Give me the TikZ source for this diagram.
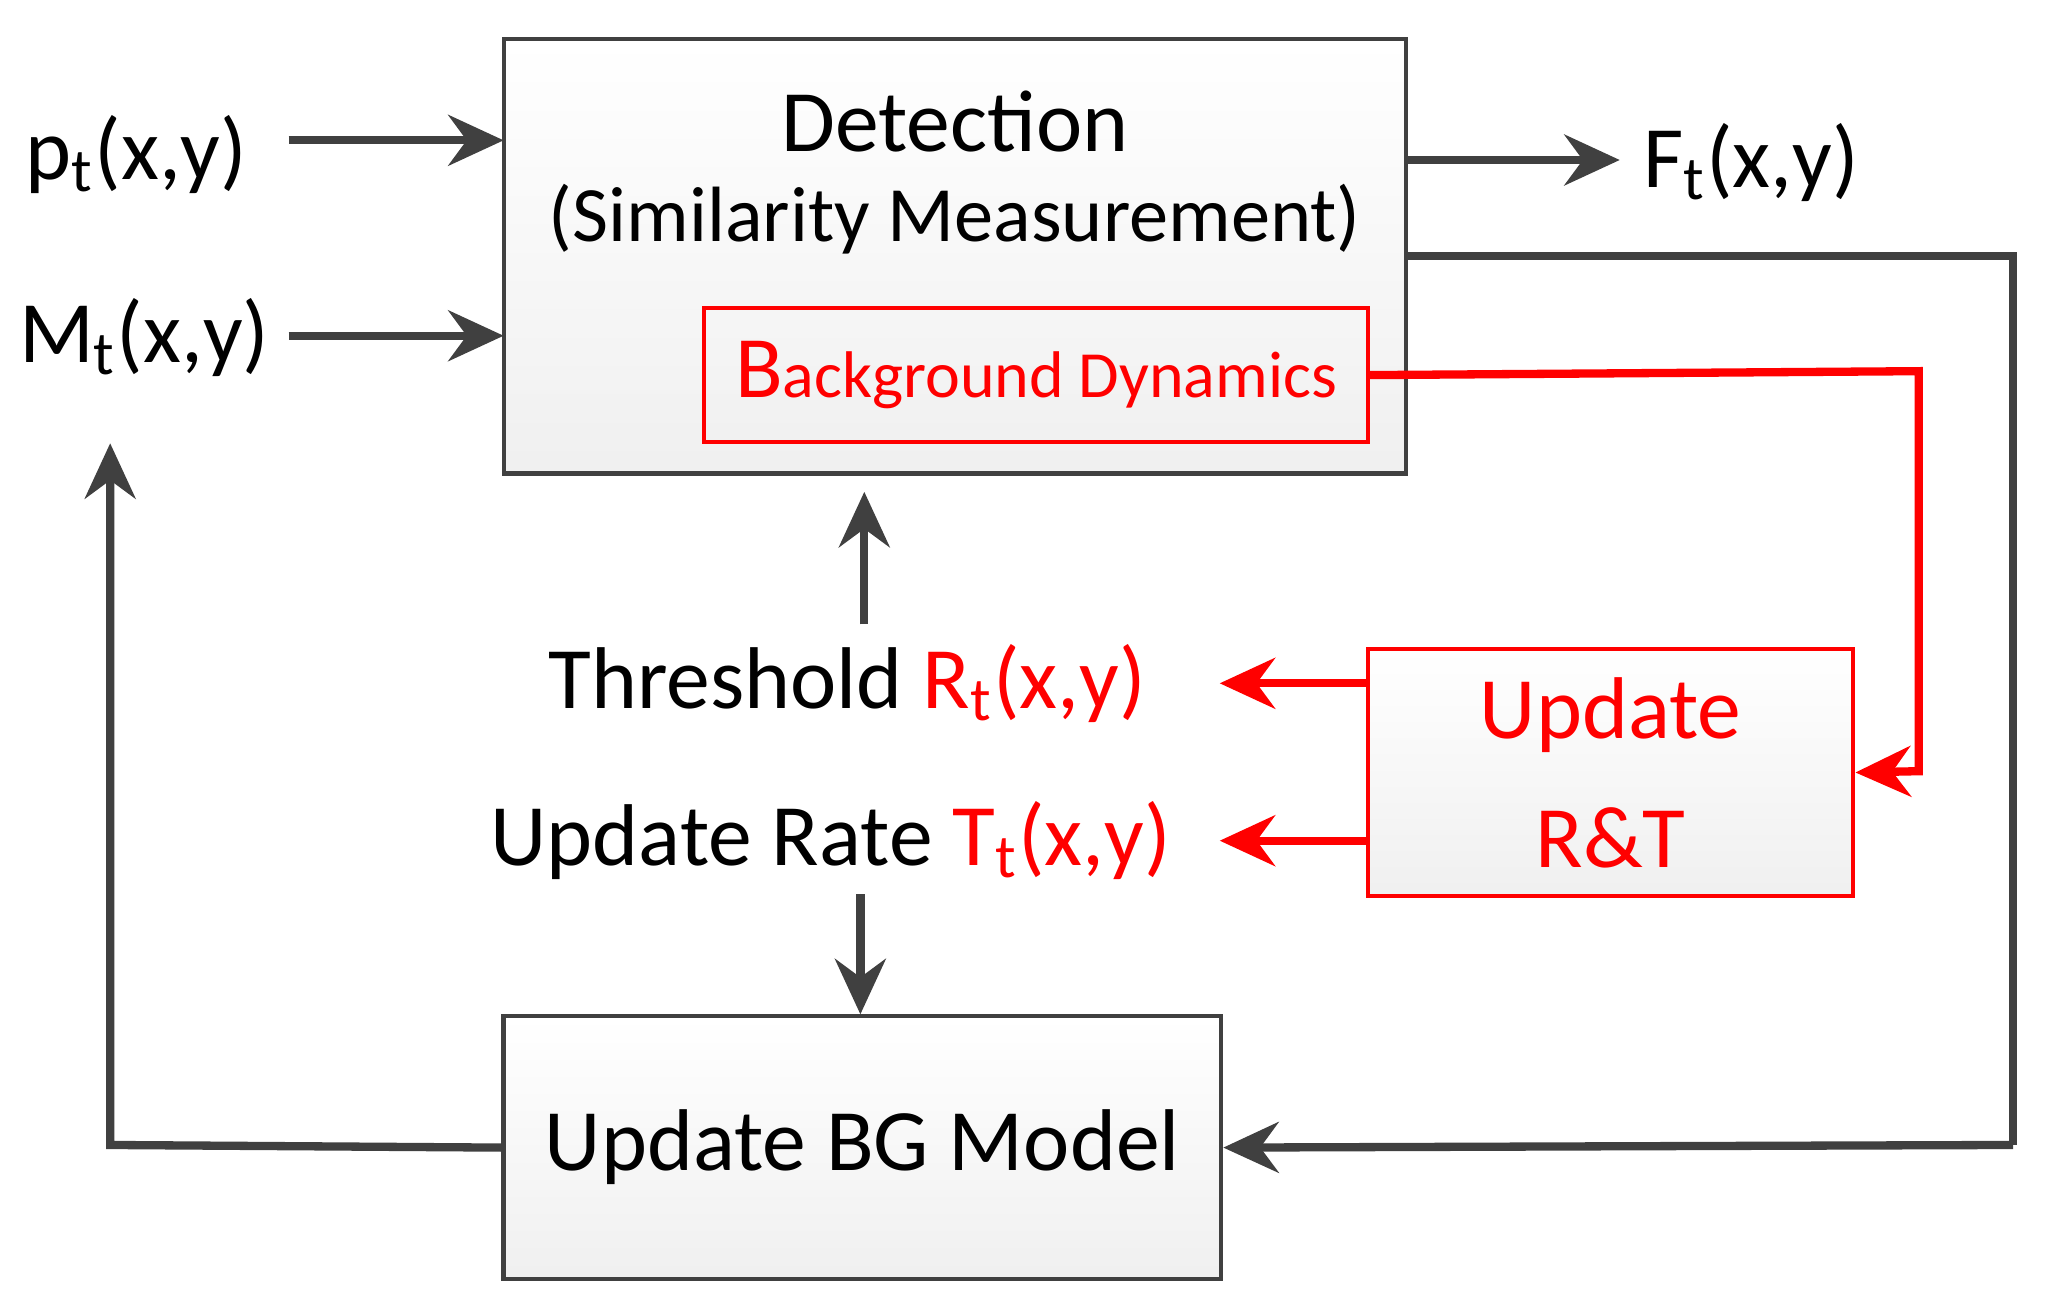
\documentclass[tikz,border=0pt]{standalone}
\usepackage{fontspec}
\setmainfont{Carlito}
\usetikzlibrary{arrows.meta}
\definecolor{dg}{HTML}{404040}
\definecolor{rd}{HTML}{FF0000}
\tikzset{
 box/.style={draw=dg, line width=0.9pt, top color=white, bottom color=gray!12, inner sep=0pt},
 rbox/.style={draw=rd, line width=0.8pt, inner sep=0pt},
 ar/.style={draw=dg, line width=1.8pt, -{Stealth[length=12pt,width=11pt,inset=4pt]}},
 rar/.style={draw=rd, line width=1.8pt, -{Stealth[length=12pt,width=11pt,inset=4pt]}},
 ln/.style={draw=dg, line width=1.8pt},
 big/.style={font=\fontsize{19}{23}\selectfont},
}
\begin{document}
\begin{tikzpicture}[x=0.01cm,y=-0.01cm]
\useasboundingbox (0,0) rectangle (1560,997);
\fill[white] (0,0) rectangle (1560,997);
% boxes
\draw[box] (384,30) rectangle (1072,361);
\coordinate (detE1) at (1072,122);
\coordinate (detE2) at (1072,195);
\coordinate (detW1) at (384,107);
\coordinate (detW2) at (384,256);
\coordinate (detS) at (659,375);
\node[font=\fontsize{19}{23}\selectfont] (det) at (728,93) {Detection};
\node[font=\fontsize{17}{20}\selectfont] (sim) at (728,167) {(Similarity Measurement)};
\node[rbox, minimum width=5.06cm, minimum height=1.02cm, text=rd, font=\fontsize{14.3}{17}\selectfont] (bd) at (790,286) {{\fontsize{19}{23}\selectfont B}ackground Dynamics};
\node[box, draw=rd, minimum width=3.70cm, minimum height=1.88cm, align=center, text=rd, font=\fontsize{19}{28}\selectfont] (rt) at (1228,589) {Update\\R\&T};
\node[box, minimum width=5.47cm, minimum height=2.00cm, big] (bg) at (657.5,875) {Update BG Model};
% labels
\node[big] (p) at (104,118) {p$_{\mathrm{t}}$(x,y)};
\node[big] (m) at (110,257) {M$_{\mathrm{t}}$(x,y)};
\node[big] (f) at (1335,124) {F$_{\mathrm{t}}$(x,y)};
\node[big, anchor=east] (th) at (886,521) {Threshold \textcolor{rd}{R$_{\mathrm{t}}$(x,y)}};
\node[big, anchor=east] (ur) at (905,641) {Update Rate \textcolor{rd}{T$_{\mathrm{t}}$(x,y)}};
% arrows
\draw[ar] (220,107) -- (detW1);
\draw[ar] (220,256) -- (detW2);
\draw[ar] (detE1) -- (1235,122);
\draw[ln] (detE2) -- (1535,195) -- (1535,873);
\draw[ar] (1535,873) -- (bg.east);
\draw[rar] (bd.east) -- (1463,283) -- (1463,588) -- (rt.east);
\draw[rar] (1043,521) -- (930,521);
\draw[rar] (1043,641) -- (930,641);
\draw[ar] (659,476) -- (detS);
\draw[ar] (656,682) -- (bg.north -| 656,0);
\draw[ar] (bg.west) -- (84,873) -- (84,338);
\end{tikzpicture}
\end{document}
